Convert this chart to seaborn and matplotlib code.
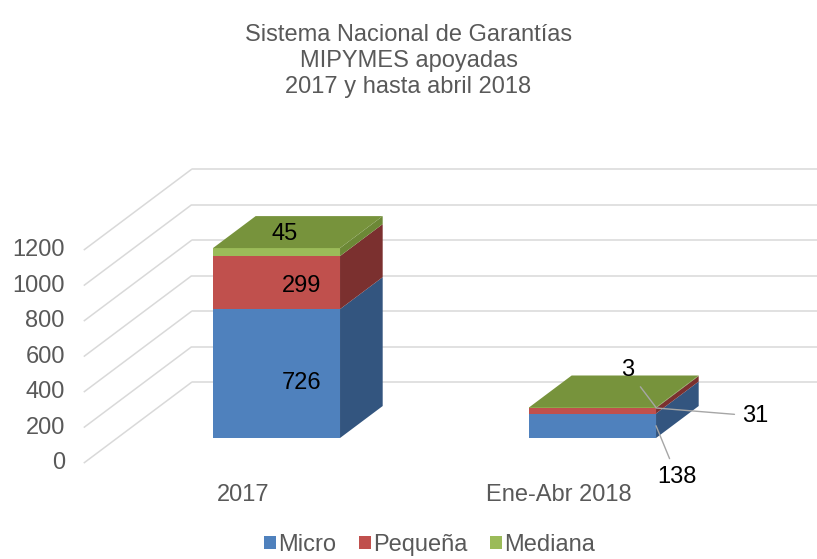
import numpy as np
import pandas as pd
import matplotlib
matplotlib.use("Agg")
import matplotlib.pyplot as plt
from matplotlib.patches import Polygon, Patch
import seaborn as sns

# Datos
categorias = ["2017", "Ene-Abr 2018"]
series = ["Micro", "Pequeña", "Mediana"]
micro = [726, 138]
pequena = [299, 31]
mediana = [45, 3]
ticks = [0, 200, 400, 600, 800, 1000, 1200]

titulo = "Sistema Nacional de Garantías\nMIPYMES apoyadas\n2017 y hasta abril 2018"

# Colores (frente / lado / tapa)
frente = ["#4F81BD", "#C0504D", "#9BBB59"]
lado = ["#33557F", "#7B302F", "#6C8836"]
tapa = "#77933C"
gris_texto = "#595959"
gris_rejilla = "#D9D9D9"

# Geometria de la vista 3D (x en unidades de categoria, y en unidades de valor)
ANCHO = 0.402
EX, EV = 0.3418, 456.0      # desplazamiento por unidad de profundidad
D_FRENTE, D_FONDO = -0.31, 0.69
PROF = 0.395
X_IZQ = -0.61
X_ETIQ = -0.67

sns.set_theme(style="white")
plt.rcParams["font.family"] = ["Liberation Sans", "DejaVu Sans"]
FS = 17

fig = plt.figure(figsize=(8.17, 5.59), dpi=100)
ax = fig.add_axes([0, 0, 1, 1])

df = pd.DataFrame({"categoria": categorias, "Micro": micro,
                   "Pequeña": pequena, "Mediana": mediana})
valores = df[series].to_numpy().T          # (serie, categoria)
acum = np.cumsum(valores, axis=0)
base = acum - valores

# paredes: lineas oblicuas y rejilla del fondo
for t in ticks:
    x0, y0 = X_IZQ, t + D_FRENTE * EV
    x1, y1 = X_IZQ + (D_FONDO - D_FRENTE) * EX, t + D_FONDO * EV
    ax.plot([x0, x1], [y0, y1], color=gris_rejilla, lw=1.1, zorder=1,
            solid_capstyle="butt")
    ax.plot([x1, 2.0], [y1, y1], color=gris_rejilla, lw=1.1, zorder=1)
    ax.text(X_ETIQ, y0, str(t), ha="right", va="center", fontsize=FS,
            color=gris_texto)

# caras frontales con seaborn (barras acumuladas, de la mas alta a la mas baja)
for k in range(len(series) - 1, -1, -1):
    sns.barplot(x=df["categoria"], y=acum[k], color=frente[k], width=ANCHO,
                saturation=1, linewidth=0, ax=ax, zorder=3)

# caras laterales y tapa
for i in range(len(categorias)):
    xr = i + ANCHO / 2
    for k in range(len(series)):
        b, t = base[k, i], acum[k, i]
        ax.add_patch(Polygon([(xr, b), (xr + PROF * EX, b + PROF * EV),
                              (xr + PROF * EX, t + PROF * EV), (xr, t)],
                             closed=True, facecolor=lado[k], lw=0, zorder=3))
    T = acum[-1, i]
    xl = i - ANCHO / 2
    ax.add_patch(Polygon([(xl, T), (xr, T), (xr + PROF * EX, T + PROF * EV),
                          (xl + PROF * EX, T + PROF * EV)],
                         closed=True, facecolor=tapa, lw=0, zorder=3))

# etiquetas de datos 2017
i = 0
for k in range(len(series)):
    v = valores[k, i]
    if v / acum[-1, i] < 0.1:
        ax.text(i + 0.025, acum[-1, i] + PROF * EV / 2 - 10, str(v),
                ha="center", va="center", fontsize=FS, color="black", zorder=5)
    else:
        ax.text(i + 0.08, base[k, i] + 0.43 * v, str(v), ha="center",
                va="center", fontsize=FS, color="black", zorder=5)

# etiquetas con lineas guia 2018
i = 1
xr = i + ANCHO / 2
guias = [
    ((xr, base[0, i] + valores[0, i] / 2), (21, -51)),
    ((xr, acum[1, i]), (99, -8)),
    ((xr, acum[2, i]), (-28, 37)),
]
for k, (xy, off) in enumerate(guias):
    ax.annotate(str(valores[k, i]), xy=xy, xytext=off,
                textcoords="offset pixels", ha="center", va="center",
                fontsize=FS, color="black", zorder=6,
                arrowprops=dict(arrowstyle="-", color="#A6A6A6", lw=1.0,
                                shrinkA=3, shrinkB=0))

# etiquetas de categoria
for i, c in enumerate(categorias):
    ax.annotate(c, xy=(i + D_FRENTE * EX, D_FRENTE * EV), xytext=(0, -32),
                textcoords="offset pixels", ha="center", va="center",
                fontsize=FS, color=gris_texto)

ax.set_xlim(-0.875, 1.7104)
ax.set_ylim(-681.7, 2467.6)
ax.axis("off")

fig.text(0.5, 1 - 61 / 559, titulo, ha="center", va="center", fontsize=FS,
         color=gris_texto, linespacing=1.24)

handles = [Patch(facecolor=frente[k], edgecolor="none", label=s)
           for k, s in enumerate(series)]
leg = fig.legend(handles=handles, loc="lower center",
                 bbox_to_anchor=(0.526, -0.024), ncol=3, frameon=False,
                 fontsize=FS, handlelength=0.5, handleheight=0.5,
                 handletextpad=0.1, columnspacing=0.95, borderpad=0.2)
for txt in leg.get_texts():
    txt.set_color(gris_texto)

fig.savefig("out.png", dpi=100)
